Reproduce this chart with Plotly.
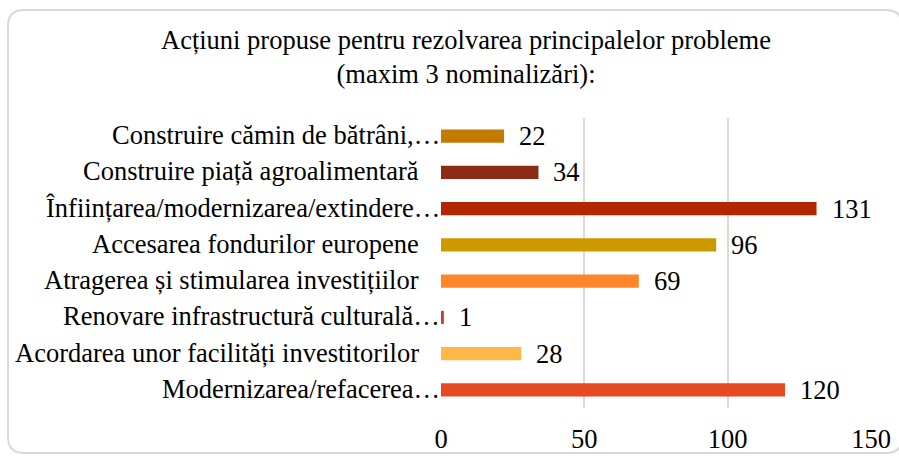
import plotly.graph_objects as go

# categories listed top to bottom, as in the chart
categories = [
    'Construire cămin de bătrâni,…',
    'Construire piață agroalimentară',
    'Înființarea/modernizarea/extindere…',
    'Accesarea fondurilor europene',
    'Atragerea și stimularea investițiilor',
    'Renovare infrastructură culturală…',
    'Acordarea unor facilități investitorilor',
    'Modernizarea/refacerea…',
]
values = [22, 34, 131, 96, 69, 1, 28, 120]
colors = ['#C47A00', '#8E2B14', '#B22600', '#CC9900',
          '#FF8629', '#C0432A', '#FFB845', '#E64A23']
x_ticks = [0, 50, 100, 150]

title_text = 'Acțiuni propuse pentru rezolvarea principalelor probleme<br>(maxim 3 nominalizări):'

FONT = 'Liberation Serif'
W, H = 899, 456
PLOT_L, PLOT_R, PLOT_T, PLOT_B = 441, 871, 118, 408


def px_to_paper(px, py):
    return ((px - PLOT_L) / (PLOT_R - PLOT_L), (PLOT_B - py) / (PLOT_B - PLOT_T))


def rounded_rect_path(x0, y0, x1, y1, r):
    pts = [
        ('M', [(x0 + r, y0)]),
        ('L', [(x1 - r, y0)]),
        ('Q', [(x1, y0), (x1, y0 + r)]),
        ('L', [(x1, y1 - r)]),
        ('Q', [(x1, y1), (x1 - r, y1)]),
        ('L', [(x0 + r, y1)]),
        ('Q', [(x0, y1), (x0, y1 - r)]),
        ('L', [(x0, y0 + r)]),
        ('Q', [(x0, y0), (x0 + r, y0)]),
    ]
    parts = []
    for cmd, coords in pts:
        conv = ['%.5f,%.5f' % px_to_paper(cx, cy) for cx, cy in coords]
        parts.append(cmd + ' ' + ' '.join(conv))
    return ' '.join(parts) + ' Z'


fig = go.Figure()
fig.add_trace(go.Bar(
    x=values,
    y=categories,
    orientation='h',
    marker=dict(color=colors, line=dict(width=0)),
    hoverinfo='x+y',
))

# value labels beside each bar
for cat, val in zip(categories, values):
    fig.add_annotation(
        x=val, y=cat, text=str(val),
        xanchor='left', yanchor='middle', xshift=13, yshift=0,
        showarrow=False,
        font=dict(family=FONT, size=26.5, color='black'))

# category labels; truncated ones run up to the axis
for cat in categories:
    truncated = cat.endswith('…')
    fig.add_annotation(
        x=0, xref='paper', y=cat, text=cat,
        xanchor='right', yanchor='middle',
        xshift=1 if truncated else -20, yshift=1,
        showarrow=False,
        font=dict(family=FONT, size=26.5, color='black'))

fig.add_shape(
    type='path',
    path=rounded_rect_path(8, 10, 902, 453, 16),
    xref='paper', yref='paper',
    line=dict(color='#D9D9D9', width=2),
    layer='below')

fig.update_layout(
    width=W,
    height=H,
    margin=dict(l=PLOT_L, r=W - PLOT_R, t=PLOT_T, b=H - PLOT_B, autoexpand=False),
    paper_bgcolor='white',
    plot_bgcolor='white',
    showlegend=False,
    bargap=0.64,
    title=dict(
        text=title_text,
        x=466 / W, xanchor='center', xref='container',
        y=1 - 49 / H, yanchor='middle', yref='container',
        font=dict(family=FONT, size=26.5, color='black')),
    xaxis=dict(
        range=[0, 150],
        tickvals=x_ticks,
        showgrid=True,
        gridcolor='#D9D9D9',
        gridwidth=1.5,
        zeroline=False,
        showline=False,
        ticks='',
        ticklabelstandoff=12,
        automargin=False,
        tickfont=dict(family=FONT, size=26.5, color='black'),
        fixedrange=True),
    yaxis=dict(
        autorange='reversed',
        showticklabels=False,
        showgrid=False,
        zeroline=False,
        showline=False,
        automargin=False,
        fixedrange=True),
)

fig.write_html(
    'out.html',
    config={'displayModeBar': False},
    post_script="document.body.style.margin='0';document.body.style.overflow='hidden';")
